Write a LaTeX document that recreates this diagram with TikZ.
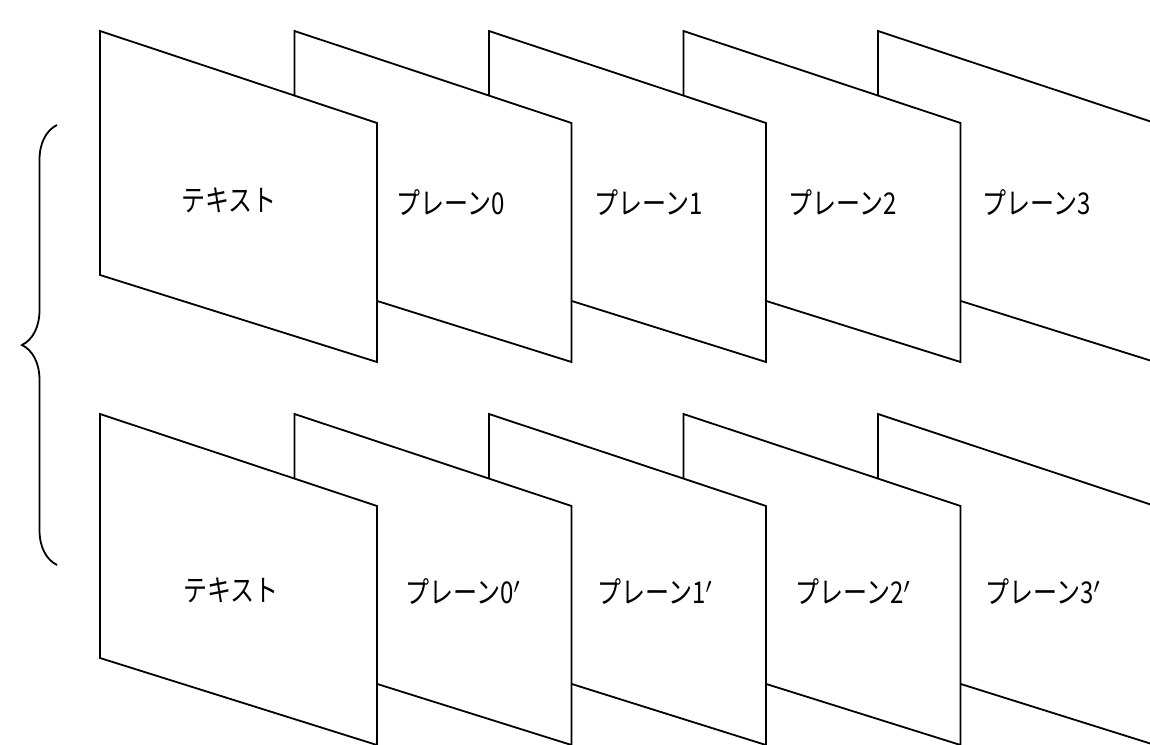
\documentclass[tikz,border=0pt]{standalone}
\usepackage{fontspec}
\newfontfamily\jpfont[FakeStretch=0.8]{Noto Sans CJK JP}
\usepackage{tikz}
\usetikzlibrary{calc,decorations.pathreplacing}

\begin{document}
\begin{tikzpicture}[x=0.5pt,y=-0.5pt,line width=0.9pt,
    plane/.style={draw=black,fill=white,line join=miter},
    lbl/.style={font=\jpfont\fontsize{15}{15}\selectfont,inner sep=0pt}]
  \useasboundingbox (0,0) rectangle (1150,744);
  \clip (0,0) rectangle (1150,744);
  % two rows of planes, back one first
  \foreach \row/\dy in {top/0,bot/383}{
    \foreach \i in {4,3,2,1,0}{
      \coordinate (\row\i) at ({100+194.5*\i},{31+\dy});
      \draw[plane] (\row\i) -- ++(277,92) -- ++(0,239) -- ++(-277,-87) -- cycle;
    }
  }
  % labels
  \node[lbl] (txtA) at (229,200) {テキスト};
  \node[lbl] (plA0) at (451,203) {プレーン0};
  \node[lbl] (plA1) at (649,203) {プレーン1};
  \node[lbl] (plA2) at (843,203) {プレーン2};
  \node[lbl] (plA3) at (1037,203) {プレーン3};
  \node[lbl] (txtB) at (231,590) {テキスト};
  \node[lbl] (plB0) at (463,592) {プレーン0$'$};
  \node[lbl] (plB1) at (655,592) {プレーン1$'$};
  \node[lbl] (plB2) at (853,592) {プレーン2$'$};
  \node[lbl] (plB3) at (1043,592) {プレーン3$'$};
  % brace over both rows
  \coordinate (brB) at (57,565);
  \coordinate (brT) at (57,125);
  \draw[decorate,decoration={brace,amplitude=17.5pt}] (brB) -- (brT);
\end{tikzpicture}
\end{document}
